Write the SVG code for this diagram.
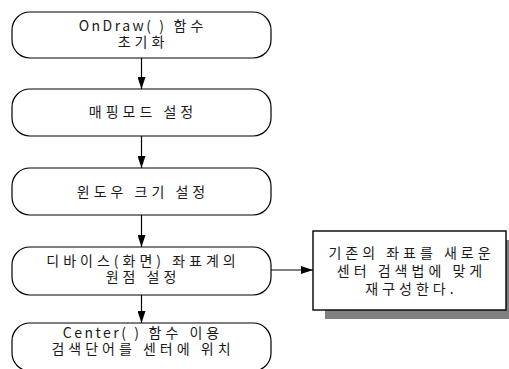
<svg xmlns="http://www.w3.org/2000/svg" width="509" height="369" viewBox="0 0 509 369">
  <style>
    .step { fill: #ffffff; stroke: #000000; stroke-width: 1.2; }
    .note { fill: #ffffff; stroke: #000000; stroke-width: 1.4; }
    .shadow { fill: #808080; }
    .label { font-family: "Noto Sans CJK KR", "Liberation Sans", sans-serif; font-size: 14px; letter-spacing: 4px; fill: #1a1a1a; text-anchor: middle; }
    .latin { letter-spacing: 2.5px; }
    .wire { stroke: #000000; stroke-width: 1.2; fill: none; marker-end: url(#head); }
  </style>
  <defs>
    <marker id="head" markerUnits="userSpaceOnUse" markerWidth="12" markerHeight="8" refX="12" refY="4" orient="auto">
      <path d="M0,0 L12,4 L0,8 Z" fill="#000000"/>
    </marker>
  </defs>
  <rect width="509" height="369" fill="#ffffff"/>

  <!-- flow connectors -->
  <g id="connectors">
    <line class="wire" x1="141.5" y1="58" x2="141.5" y2="89"/>
    <line class="wire" x1="141.5" y1="136" x2="141.5" y2="168"/>
    <line class="wire" x1="141.5" y1="215" x2="141.5" y2="247"/>
    <line class="wire" x1="141.5" y1="295" x2="141.5" y2="323"/>
    <line class="wire" x1="271" y1="270" x2="313" y2="270"/>
  </g>

  <g id="init-ondraw">
    <rect class="step" x="12" y="12" width="259" height="46" rx="18" ry="18"/>
    <text class="label"><tspan x="143" y="31"><tspan class="latin">OnDraw( )</tspan> 함수</tspan><tspan x="143" y="47">초기화</tspan></text>
  </g>

  <g id="mapping-mode">
    <rect class="step" x="12" y="89" width="259" height="47" rx="18" ry="18"/>
    <text class="label" x="143" y="117">매핑모드 설정</text>
  </g>

  <g id="window-size">
    <rect class="step" x="12" y="168" width="259" height="47" rx="18" ry="18"/>
    <text class="label" x="143" y="197">윈도우 크기 설정</text>
  </g>

  <g id="device-origin">
    <rect class="step" x="12" y="247" width="259" height="48" rx="18" ry="18"/>
    <text class="label"><tspan x="143" y="266">디바이스(화면) 좌표계의</tspan><tspan x="143" y="282">원점 설정</tspan></text>
  </g>

  <g id="center-word">
    <rect class="step" x="12" y="323" width="259" height="48" rx="18" ry="18"/>
    <text class="label"><tspan x="143" y="338"><tspan class="latin">Center( )</tspan> 함수 이용</tspan><tspan x="143" y="354">검색단어를 센터에 위치</tspan></text>
  </g>

  <g id="rebuild-note">
    <rect class="shadow" x="325" y="240" width="190" height="79"/>
    <rect class="note" x="313" y="231" width="193" height="79"/>
    <text class="label"><tspan x="411.5" y="258">기존의 좌표를 새로운</tspan><tspan x="411.5" y="276">센터 검색법에 맞게</tspan><tspan x="411.5" y="294">재구성한다.</tspan></text>
  </g>
</svg>
